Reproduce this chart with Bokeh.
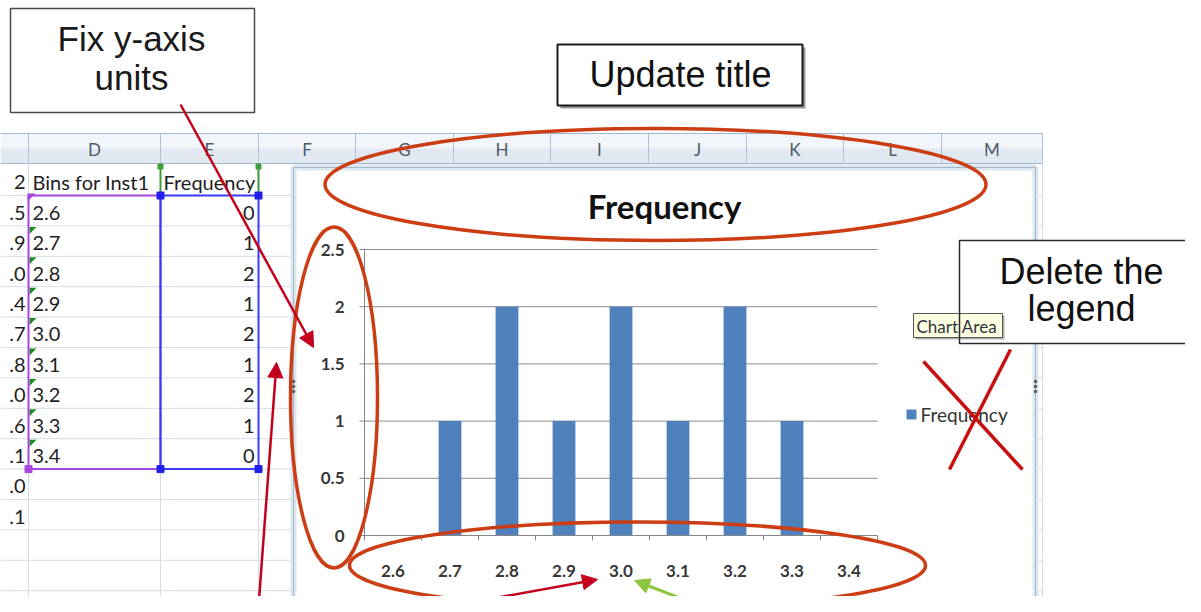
from bokeh.plotting import figure
from bokeh.models import Range1d, Arrow, NormalHead
from bokeh.core.properties import value
from bokeh.embed import file_html
from bokeh.resources import INLINE

# ---------------- data ----------------
bins = ["2.6", "2.7", "2.8", "2.9", "3.0", "3.1", "3.2", "3.3", "3.4"]
frequency = [0, 1, 2, 1, 2, 1, 2, 1, 0]
y_ticks = [0, 0.5, 1, 1.5, 2, 2.5]
y_tick_labels = ["0", "0.5", "1", "1.5", "2", "2.5"]
chart_title = "Frequency"
legend_label = "Frequency"
col_letters = ["D", "E", "F", "G", "H", "I", "J", "K", "L", "M"]
col_c_fragments = [".5", ".9", ".0", ".4", ".7", ".8", ".0", ".6", ".1", ".0", ".1"]
header_c_fragment = "2"
header_d = "Bins for Inst1"
header_e = "Frequency"
note_fix = ["Fix y-axis", "units"]
note_title = "Update title"
note_legend = ["Delete the", "legend"]
tooltip_text = "Chart Area"

# ---------------- layout constants (pixels of the page image) ----------------
W, H = 1185, 596
X0, Y0 = 0, 0
PL, PR, PB, PT = 364, 877, 535, 249          # plot area of the embedded chart
CA_L, CA_R, CA_T, CA_B = 293, 1035, 167, 605  # chart area
col_edges = [28, 160, 258, 355, 453, 550, 648, 746, 843, 941, 1042]
HEAD_T, HEAD_B = 133, 163
ROW0, ROW_H = 195, 30.4
row_lines = [ROW0 + ROW_H * k for k in range(0, 14)]

CELL_FONT = value("Lato")
NOTE_FONT = value("Liberation Sans")

p = figure(width=W, height=H, x_range=Range1d(X0, X0 + W), y_range=Range1d(Y0 + H, Y0),
           output_backend="svg", toolbar_location=None, min_border=0,
           x_axis_location=None, y_axis_location=None)
p.grid.visible = False
p.outline_line_color = None
p.background_fill_color = "white"
p.border_fill_color = "white"

n = len(bins)
ppx = (PR - PL) / n
ppy = (PB - PT) / y_ticks[-1]
p.extra_x_ranges = {"cat": Range1d(start=-(PL - X0) / ppx, end=n + (X0 + W - PR) / ppx)}
p.extra_y_ranges = {"freq": Range1d(start=-(Y0 + H - PB) / ppy, end=y_ticks[-1] + (PT - Y0) / ppy)}

# ---------------- spreadsheet ----------------
right_edge = col_edges[-1]
p.quad(left=X0, right=right_edge, top=HEAD_T, bottom=(HEAD_T + HEAD_B) / 2,
       fill_color="#f2f5fa", line_color=None)
p.quad(left=X0, right=right_edge, top=(HEAD_T + HEAD_B) / 2, bottom=HEAD_B,
       fill_color="#e1e8f2", line_color=None)
p.segment(x0=X0, x1=right_edge, y0=[HEAD_T, HEAD_B], y1=[HEAD_T, HEAD_B],
          line_color="#9eb6ce", line_width=1)
p.segment(x0=col_edges, x1=col_edges, y0=HEAD_T, y1=HEAD_B, line_color="#b3c3d6", line_width=1)
centers = [(a + b) / 2 for a, b in zip(col_edges[:-1], col_edges[1:])]
p.text(x=centers, y=(HEAD_T + HEAD_B) / 2 + 1, text=col_letters, text_align="center",
       text_baseline="middle", text_font=CELL_FONT, text_font_size="17px", text_color="#4e5a68")

# cell grid
p.segment(x0=X0, x1=right_edge, y0=row_lines, y1=row_lines, line_color="#d6dce6", line_width=1)
p.segment(x0=col_edges, x1=col_edges, y0=HEAD_B, y1=Y0 + H + 20, line_color="#d6dce6", line_width=1)

# cell texts
FS = "20px"
hdr_y = (HEAD_B + ROW0) / 2 + 2
p.text(x=[25], y=[hdr_y], text=[header_c_fragment], text_align="right", text_baseline="middle",
       text_font=CELL_FONT, text_font_size=FS, text_color="#1e1e1e")
p.text(x=[col_edges[0] + 4, col_edges[1] + 3], y=[hdr_y, hdr_y], text=[header_d, header_e],
       text_align="left", text_baseline="middle", text_font=CELL_FONT, text_font_size=FS,
       text_color="#1e1e1e")
row_y = [ROW0 + ROW_H * k + ROW_H / 2 + 2 for k in range(len(col_c_fragments))]
p.text(x=25, y=row_y, text=col_c_fragments, text_align="right", text_baseline="middle",
       text_font=CELL_FONT, text_font_size=FS, text_color="#1e1e1e")
p.text(x=col_edges[0] + 4, y=row_y[:n], text=bins, text_align="left", text_baseline="middle",
       text_font=CELL_FONT, text_font_size=FS, text_color="#1e1e1e")
p.text(x=col_edges[2] - 4, y=row_y[:n], text=[str(v) for v in frequency], text_align="right",
       text_baseline="middle", text_font=CELL_FONT, text_font_size=FS, text_color="#1e1e1e")

# green error triangles
tri_x, tri_y = [], []
for k in range(1, n):
    t = ROW0 + ROW_H * k + 1
    x = col_edges[0] + 1
    tri_x.append([x, x + 7, x])
    tri_y.append([t, t, t + 7])
p.patches(xs=tri_x, ys=tri_y, fill_color="#1f8a1f", line_color=None)

# selection outlines
sel_b = ROW0 + ROW_H * n
purple, blue, green = "#a847de", "#3b3bff", "#3d9d3d"
p.quad(left=col_edges[0], right=col_edges[1], top=ROW0, bottom=sel_b, fill_color=None,
       line_color=purple, line_width=2)
p.quad(left=col_edges[1], right=col_edges[2], top=ROW0, bottom=sel_b, fill_color=None,
       line_color=blue, line_width=2)
p.segment(x0=[col_edges[1], col_edges[2]], x1=[col_edges[1], col_edges[2]], y0=HEAD_B + 2, y1=ROW0,
          line_color=green, line_width=2)
p.scatter(x=[col_edges[1], col_edges[2]], y=[HEAD_B + 3, HEAD_B + 3], marker="square", size=5,
          color=green)
p.patches(xs=[[col_edges[0] - 1, col_edges[0] + 7, col_edges[0] - 1]],
          ys=[[ROW0 - 2, ROW0 - 2, ROW0 + 6]], fill_color=purple, line_color=None)
p.scatter(x=[col_edges[0]], y=[sel_b], marker="square", size=7, color=purple)
p.scatter(x=[col_edges[1], col_edges[2], col_edges[1], col_edges[2]], y=[ROW0, ROW0, sel_b, sel_b],
          marker="square", size=7, color="#2020e8")

# ---------------- chart area ----------------
p.quad(left=CA_L, right=CA_R, top=CA_T, bottom=CA_B, fill_color="white", line_color="#dde7ef",
       line_width=6)
p.quad(left=CA_L, right=CA_R, top=CA_T, bottom=CA_B, fill_color=None, line_color="#a5b8ca",
       line_width=1)
# selection handles
mx, my = (CA_L + CA_R) / 2, (CA_T + CA_B) / 2
p.scatter(x=[CA_L, CA_L, CA_L, CA_R, CA_R, CA_R, mx - 6, mx - 2, mx + 2, mx + 6],
          y=[my - 5, my, my + 5, my - 5, my, my + 5, CA_B, CA_B, CA_B, CA_B],
          marker="circle", size=2.5, color="#555555")

# gridlines
p.segment(x0=0, x1=n, y0=y_ticks, y1=y_ticks, x_range_name="cat", y_range_name="freq",
          line_color="#8a8a8a", line_width=1)
# bars
p.vbar(x=[i + 0.5 for i in range(n)], top=frequency, bottom=0, width=0.4,
       fill_color="#4f81bd", line_color=None, x_range_name="cat", y_range_name="freq")
# axes
p.segment(x0=[0], x1=[0], y0=[0], y1=[y_ticks[-1]], x_range_name="cat", y_range_name="freq",
          line_color="#868686", line_width=1)
p.segment(x0=[0], x1=[n], y0=[0], y1=[0], x_range_name="cat", y_range_name="freq",
          line_color="#868686", line_width=1)
p.segment(x0=PL - 5, x1=PL, y0=y_ticks, y1=y_ticks, y_range_name="freq",
          line_color="#868686", line_width=1)
p.segment(x0=list(range(n + 1)), x1=list(range(n + 1)), y0=PB, y1=PB + 5, x_range_name="cat",
          line_color="#868686", line_width=1)
p.text(x=PL - 20, y=y_ticks, text=y_tick_labels, y_range_name="freq", text_align="right",
       text_baseline="middle", text_font=CELL_FONT, text_font_size="17px",
       text_font_style="bold", text_color="#383838")
p.text(x=[i + 0.5 for i in range(n)], y=PB + 35, text=bins, x_range_name="cat", text_align="center",
       text_baseline="middle", text_font=CELL_FONT, text_font_size="17px",
       text_font_style="bold", text_color="#383838")
p.text(x=[(CA_L + CA_R) / 2], y=[205], text=[chart_title], text_align="center",
       text_baseline="middle", text_font=CELL_FONT, text_font_size="33px",
       text_font_style="bold", text_color="#111111")
# legend
p.scatter(x=[911], y=[414], marker="square", size=9, color="#4f81bd")
p.text(x=[920], y=[414], text=[legend_label], text_align="left", text_baseline="middle",
       text_font=CELL_FONT, text_font_size="19px", text_color="#333333")

# ---------------- annotations ----------------
orange = "#cc3d14"
p.ellipse(x=[655, 333.5, 637], y=[184, 397, 565], width=[661, 87, 576], height=[112, 341, 87],
          fill_color=None, line_color=orange, line_width=3.5)
red = "#c4001c"
p.segment(x0=[923, 1010], y0=[361, 349], x1=[1022, 949], y1=[469, 469],
          line_color="#c81010", line_width=3.5)

# note boxes
p.quad(left=10, right=254, top=8, bottom=112, fill_color="white", line_color="#4a4a4a",
       line_width=1.5)
p.text(x=[131, 131], y=[38, 77], text=note_fix, text_align="center", text_baseline="middle",
       text_font=NOTE_FONT, text_font_size="35px", text_color="#1a1a1a")

p.quad(left=560, right=805, top=47, bottom=108, fill_color="#9a9a9a", line_color=None)
p.quad(left=557, right=802, top=44, bottom=105, fill_color="white", line_color="#1a1a1a",
       line_width=2)
p.text(x=[680], y=[74], text=[note_title], text_align="center", text_baseline="middle",
       text_font=NOTE_FONT, text_font_size="36px", text_color="#111111")

p.quad(left=959, right=1215, top=240, bottom=343, fill_color="white", line_color=None)
p.quad(left=915, right=1004, top=315, bottom=339, fill_color="#b0b0b0", line_color=None)
p.quad(left=913, right=1002, top=313, bottom=337, fill_color="#ffffe1", line_color="#555555",
       line_width=1)
p.text(x=[916], y=[325.5], text=[tooltip_text], text_align="left", text_baseline="middle",
       text_font=CELL_FONT, text_font_size="17px", text_color="#2e3440")
p.quad(left=959, right=1215, top=240, bottom=343, fill_color=None, line_color="#2a2a2a",
       line_width=1.5)
p.text(x=[1081, 1081], y=[271, 308], text=note_legend, text_align="center", text_baseline="middle",
       text_font=NOTE_FONT, text_font_size="36px", text_color="#111111")

# arrows
def arrow(xs, ys, xe, ye, color, width):
    p.add_layout(Arrow(end=NormalHead(size=15, fill_color=color, line_color=color),
                       x_start=xs, y_start=ys, x_end=xe, y_end=ye,
                       line_color=color, line_width=width))

arrow(180, 104, 313, 347, red, 2.5)
arrow(257, 620, 276, 362, red, 2.5)
arrow(398, 615, 597, 579, red, 2.5)
arrow(725, 615, 634, 580, "#8cc63f", 3)

open("out.html", "w").write(file_html(p, INLINE))
